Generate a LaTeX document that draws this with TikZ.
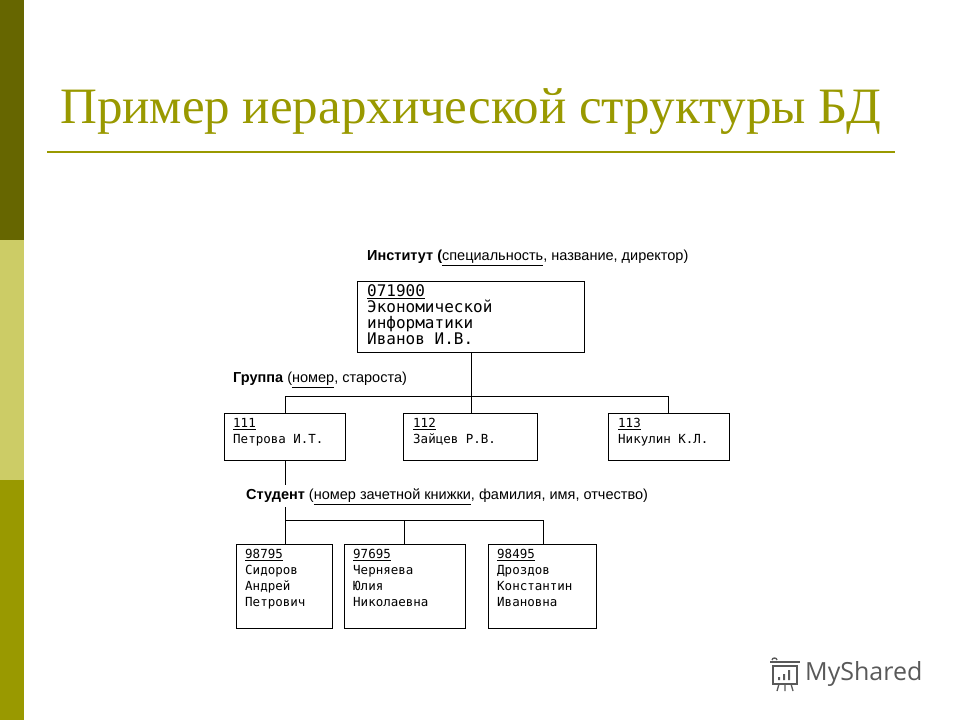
\documentclass[tikz,border=0pt]{standalone}
\usepackage{fontspec}
\setmainfont{Liberation Serif}
\newfontfamily\lab{Liberation Sans}
\newfontfamily\mono{DejaVu Sans Mono}
\newfontfamily\logo{Open Sans}
\definecolor{olive}{HTML}{999900}
\definecolor{darkol}{HTML}{666600}
\definecolor{lightol}{HTML}{CCCC66}
\begin{document}
\begin{tikzpicture}[x=1pt,y=-1pt,
  rec/.style={draw,line width=0.8pt,anchor=north west,inner sep=0pt},
  small/.style={anchor=north west,inner sep=0pt,align=left,font=\mono\fontsize{12.5}{16}\selectfont},
  big/.style={anchor=north west,inner sep=0pt,align=left,font=\mono\fontsize{16}{16}\selectfont},
  lbl/.style={anchor=west,inner sep=0pt,font=\lab\fontsize{14.5}{16}\selectfont},
  con/.style={line width=0.8pt}]
\useasboundingbox (0,0) rectangle (960,720);
\fill[darkol] (0,0) rectangle (24,240);
\fill[lightol] (0,240) rectangle (24,480);
\fill[olive] (0,480) rectangle (24,720);
\node[anchor=west,inner sep=0pt,text=olive,font=\fontsize{51}{56}\selectfont] (title) at (60,112) {Пример иерархической структуры БД};
\draw[olive,line width=1.5pt] (47,152) -- (895,152);

\node[lbl] (li) at (367,258) {\textbf{Институт (}\underline{специальность}, название, директор)};
\node[lbl] (lg) at (233,380) {\textbf{Группа} (\underline{номер}, староста)};
\node[lbl] (ls) at (246,497) {\textbf{Студент} (\underline{номер зачетной книжки}, фамилия, имя, отчество)};

\draw[rec] (357,281) rectangle (584,352);
\coordinate (ib) at (471,352);
\node[big] (inst) at (367,284) {\underline{071900}\\Экономической\\информатики\\Иванов И.В.};

\draw[rec] (224,413) rectangle (345,460);
\draw[rec] (403,413) rectangle (537,460);
\draw[rec] (608,413) rectangle (729,460);
\node[small] (g1) at (233,418) {\underline{111}\\Петрова И.Т.};
\node[small] (g2) at (413,418) {\underline{112}\\Зайцев Р.В.};
\node[small] (g3) at (618,418) {\underline{113}\\Никулин К.Л.};

\draw[rec] (236,544) rectangle (332,628);
\draw[rec] (344,544) rectangle (465,628);
\draw[rec] (488,544) rectangle (596,628);
\node[small] (s1) at (245,549) {\underline{98795}\\Сидоров\\Андрей\\Петрович};
\node[small] (s2) at (353,549) {\underline{97695}\\Черняева\\Юлия\\Николаевна};
\node[small] (s3) at (497,549) {\underline{98495}\\Дроздов\\Константин\\Ивановна};

\coordinate (ga) at (285,396); \coordinate (gb) at (668,396);
\draw[con] (ib) -- (471,413);
\draw[con] (285,413) -- (ga) -- (gb) -- (668,413);

\draw[con] (285,460) -- (285,485);
\draw[con] (285,507) -- (285,544);
\draw[con] (285,520) -- (543,520) -- (543,544);
\draw[con] (404,520) -- (404,544);

% logo
\begin{scope}[draw=black!65,line width=1.3pt]
\draw (773,666) rectangle (797,684);
\draw (770,662) -- (800,662);
\draw (772,660) arc (180:360:2.5 and 2);
\draw (779,684) -- (777,691) (785,684) -- (785,691) (791,684) -- (793,691);
\fill[black!65] (778,677) rectangle (780,680) (783,674) rectangle (785,680) (788,670) rectangle (790,680);
\end{scope}
\node[anchor=west,inner sep=0pt,text=black!65,font=\logo\fontsize{25}{28}\selectfont] (ms) at (805,674) {MyShared};
\end{tikzpicture}
\end{document}
